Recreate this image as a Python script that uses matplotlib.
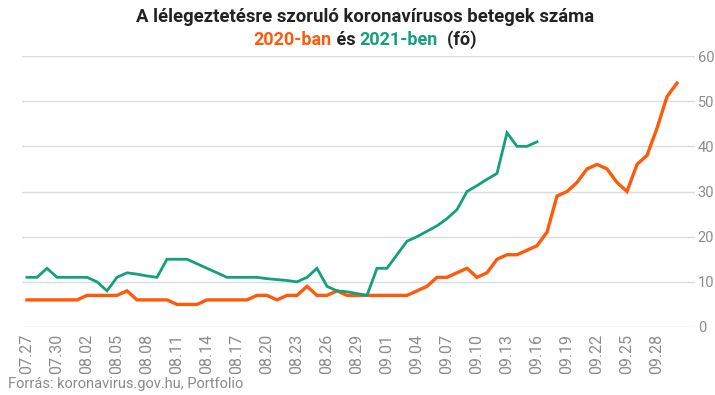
import matplotlib
matplotlib.use("Agg")
import matplotlib.pyplot as plt
import pandas as pd

# ---- data ----
start_date = "2020-07-27"
values_2020 = [6, 6, 6, 6, 6, 6, 7, 7, 7, 7,
               8, 6, 6, 6, 6, 5, 5, 5, 6, 6,
               6, 6, 6, 7, 7, 6, 7, 7, 9, 7,
               7, 8, 7, 7, 7, 7, 7, 7, 7, 8,
               9, 11, 11, 12, 13, 11, 12, 15, 16, 16,
               17, 18, 21, 29, 30, 32, 35, 36, 35, 32,
               30, 36, 38, 44, 51, 54]
values_2021 = [11, 11, 13, 11, 11, 11, 11, 10, 8, 11,
               12, 11.7, 11.3, 11, 15, 15, 15, 14, 13, 12,
               11, 11, 11, 11, 10.7, 10.5, 10.3, 10, 11, 13,
               9, 8, 7.8, 7.4, 7, 13, 13, 16, 19, 20,
               21.2, 22.4, 24, 26, 30, 31.3, 32.7, 34, 43, 40,
               40, 41]
tick_labels = ["07.27", "07.30", "08.02", "08.05", "08.08", "08.11", "08.14",
               "08.17", "08.20", "08.23", "08.26", "08.29", "09.01", "09.04",
               "09.07", "09.10", "09.13", "09.16", "09.19", "09.22", "09.25",
               "09.28"]
y_ticks = [0, 10, 20, 30, 40, 50, 60]

title_line1 = "A lélegeztetésre szoruló koronavírusos betegek száma"
subtitle_parts = [("2020-ban", "#ff5a0a"), (" és ", "#222222"),
                  ("2021-ben", "#13a07b"), ("  (fő)", "#222222")]
source_text = "Forrás: koronavirus.gov.hu, Portfolio"

# ---- styling ----
ORANGE = "#ff5a0a"
GREEN = "#13a07b"
GRID = "#d6dfdd"
TICK = "#8c8c8c"
FONT = "Roboto"

plt.rcParams["font.family"] = [FONT, "DejaVu Sans"]

dates = pd.date_range(start_date, periods=len(values_2020))
date_labels = [d.strftime("%m.%d") for d in dates]
x2020 = list(range(len(values_2020)))
x2021 = list(range(len(values_2021)))

fig = plt.figure(figsize=(7.15, 3.95), dpi=100)
ax = fig.add_axes([22 / 715, 1 - 327 / 395, (695 - 22) / 715, (327 - 56) / 395])

ax.plot(x2020, values_2020, color=ORANGE, lw=2.4, solid_joinstyle="miter", zorder=3)
ax.plot(x2021, values_2021, color=GREEN, lw=2.0, solid_joinstyle="miter", zorder=3)

ax.set_xlim(-0.5, 66.8)
ax.set_ylim(0, 60)
ax.set_yticks(y_ticks)
ax.yaxis.tick_right()
ax.tick_params(axis="y", length=0, pad=2, labelsize=10.5, labelcolor=TICK)
ax.grid(axis="y", color=GRID, lw=1)
ax.set_axisbelow(True)

tick_pos = [date_labels.index(t) for t in tick_labels]
ax.set_xticks(tick_pos)
ax.set_xticklabels(tick_labels, rotation=90, fontsize=11.5, color=TICK)
ax.tick_params(axis="x", length=0, pad=5)
for s in ax.spines.values():
    s.set_visible(False)

# title
fig.text(365 / 715, 1 - 17 / 395, title_line1, ha="center", va="center",
         fontsize=13.3, fontweight="bold", color="#222222")

# subtitle with coloured parts, centred
renderer = fig.canvas.get_renderer()
texts = []
for s, c in subtitle_parts:
    t = fig.text(0, 1 - 40 / 395, s, ha="left", va="center", fontsize=13,
                 fontweight="bold", color=c)
    texts.append(t)
widths = [t.get_window_extent(renderer).width for t in texts]
total = sum(widths)
x0 = 365 - total / 2
for t, w in zip(texts, widths):
    t.set_x(x0 / 715)
    x0 += w

fig.text(8 / 715, 1 - 384 / 395, source_text, ha="left", va="center",
         fontsize=10.5, color="#8a8a8a")

fig.savefig("out.png", dpi=100)
